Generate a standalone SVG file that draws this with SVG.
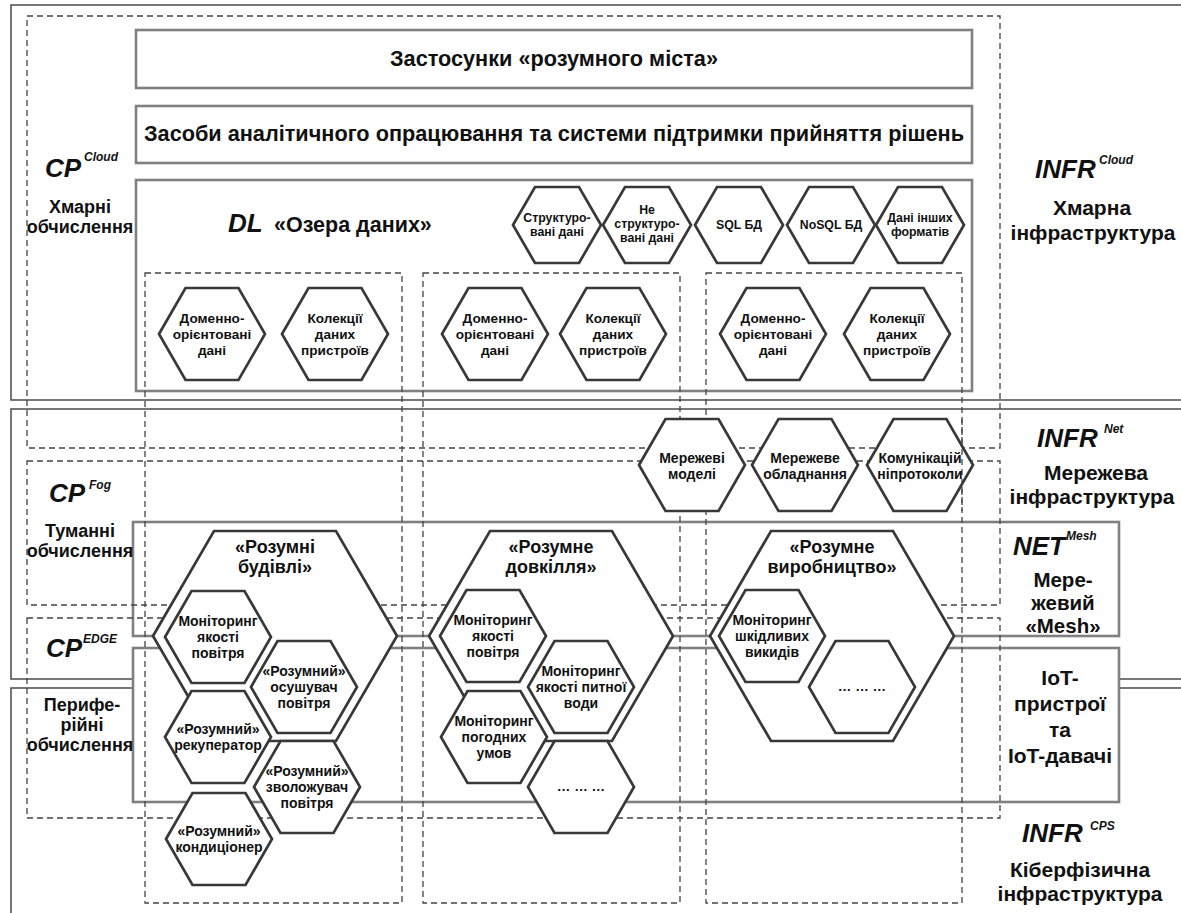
<svg xmlns="http://www.w3.org/2000/svg" width="1181" height="913" viewBox="0 0 1181 913">
<style>
text{font-family:'Liberation Sans','Open Sans','DejaVu Sans',sans-serif;font-weight:bold;fill:#111;text-anchor:middle}
.outer{fill:none;stroke:#555;stroke-width:1.6}
.gbox{fill:#fff;stroke:#808080;stroke-width:2.6}
.dash{fill:none;stroke:#444;stroke-width:1.3;stroke-dasharray:6 4}
.hex{fill:#fff;stroke:#383838;stroke-width:2.7}
.sym{font-style:italic;font-size:26px;text-anchor:start}
.sup{font-style:italic;font-size:12px;text-anchor:start}
.lbl{font-size:18px}
.rl{font-size:21px}
.h12{font-size:12.3px}
.h13{font-size:13.6px}
.h14{font-size:14px}
.big{font-size:18px}
</style>
<defs>
<polygon id="hexS" class="hex" points="-44,0 -22,-38 22,-38 44,0 22,38 -22,38"/>
<polygon id="hexM" class="hex" points="-53,0 -26.5,-46 26.5,-46 53,0 26.5,46 -26.5,46"/>
<polygon id="hexL" class="hex" points="-122,0 -61,-105 61,-105 122,0 61,105 -61,105"/>
</defs>

<g id="layers">
<rect id="infr-cloud" class="outer" x="11" y="5" width="1180" height="395"/>
<rect id="infr-net" class="outer" x="11" y="409" width="1180" height="270"/>
<rect id="infr-cps" class="outer" x="11" y="688" width="1180" height="240"/>
<rect id="apps" class="gbox" x="136" y="30" width="836" height="58"/>
<rect id="analytics" class="gbox" x="136" y="106" width="836" height="57"/>
<rect id="datalake" class="gbox" x="136" y="180" width="836" height="211"/>
<rect id="net-mesh" class="gbox" x="133" y="522" width="986" height="114"/>
<rect id="iot" class="gbox" x="133" y="648" width="986" height="154"/>
</g>

<g id="zones">
<rect id="cp-cloud" class="dash" x="27" y="16" width="973" height="432"/>
<rect id="cp-fog" class="dash" x="27" y="461" width="973" height="144"/>
<rect id="cp-edge" class="dash" x="27" y="618" width="973" height="200"/>
<rect id="col1" class="dash" x="145" y="273" width="257" height="630"/>
<rect id="col2" class="dash" x="423" y="273" width="257" height="630"/>
<rect id="col3" class="dash" x="706" y="273" width="256" height="630"/>
</g>

<g id="connectors"></g>

<g id="layer-texts">
<text x="554" y="66" style="font-size:21.7px">Застосунки «розумного міста»</text>
<text x="554" y="141" style="font-size:21.7px">Засоби аналітичного опрацювання та системи підтримки прийняття рішень</text>
<text class="sym" x="228" y="232">DL</text>
<text x="274" y="232" style="font-size:21.5px;text-anchor:start">«Озера даних»</text>
</g>

<g id="dl-struct"><use href="#hexS" x="557" y="225"/><text class="h12" x="557" y="222">Структуро-</text><text class="h12" x="557" y="236">вані дані</text></g>
<g id="dl-unstruct"><use href="#hexS" x="647" y="225"/><text class="h12" x="647" y="214">Не</text><text class="h12" x="647" y="228">структуро-</text><text class="h12" x="647" y="242">вані дані</text></g>
<g id="dl-sql"><use href="#hexS" x="739" y="225"/><text class="h12" x="739" y="229">SQL БД</text></g>
<g id="dl-nosql"><use href="#hexS" x="831" y="225"/><text class="h12" x="831" y="229">NoSQL БД</text></g>
<g id="dl-other"><use href="#hexS" x="920" y="225"/><text class="h12" x="920" y="222">Дані інших</text><text class="h12" x="920" y="236">форматів</text></g>

<g id="c1-domain"><use href="#hexM" x="212" y="334"/><text class="h13" x="212" y="323">Доменно-</text><text class="h13" x="212" y="339">орієнтовані</text><text class="h13" x="212" y="355">дані</text></g>
<g id="c1-coll"><use href="#hexM" x="335" y="334"/><text class="h13" x="335" y="323">Колекції</text><text class="h13" x="335" y="339">даних</text><text class="h13" x="335" y="355">пристроїв</text></g>
<g id="c2-domain"><use href="#hexM" x="495" y="334"/><text class="h13" x="495" y="323">Доменно-</text><text class="h13" x="495" y="339">орієнтовані</text><text class="h13" x="495" y="355">дані</text></g>
<g id="c2-coll"><use href="#hexM" x="613" y="334"/><text class="h13" x="613" y="323">Колекції</text><text class="h13" x="613" y="339">даних</text><text class="h13" x="613" y="355">пристроїв</text></g>
<g id="c3-domain"><use href="#hexM" x="773" y="334"/><text class="h13" x="773" y="323">Доменно-</text><text class="h13" x="773" y="339">орієнтовані</text><text class="h13" x="773" y="355">дані</text></g>
<g id="c3-coll"><use href="#hexM" x="897" y="334"/><text class="h13" x="897" y="323">Колекції</text><text class="h13" x="897" y="339">даних</text><text class="h13" x="897" y="355">пристроїв</text></g>

<g id="net-models"><use href="#hexM" x="692" y="465"/><text class="h14" x="692" y="463">Мережеві</text><text class="h14" x="692" y="479">моделі</text></g>
<g id="net-equip"><use href="#hexM" x="805" y="465"/><text class="h14" x="805" y="463">Мережеве</text><text class="h14" x="805" y="479">обладнання</text></g>
<g id="net-proto"><use href="#hexM" x="920" y="465"/><line class="dash" x1="962" y1="419" x2="962" y2="511"/><text class="h14" x="920" y="463">Комунікацій</text><text class="h14" x="920" y="479">ніпротоколи</text></g>

<g id="smart-buildings"><use href="#hexL" x="275" y="636"/><text class="big" x="275" y="553">«Розумні</text><text class="big" x="275" y="573">будівлі»</text></g>
<g id="smart-env"><use href="#hexL" x="551" y="636"/><text class="big" x="551" y="553">«Розумне</text><text class="big" x="551" y="573">довкілля»</text></g>
<g id="smart-prod"><use href="#hexL" x="832" y="636"/><text class="big" x="832" y="553">«Розумне</text><text class="big" x="832" y="573">виробництво»</text></g>

<g id="b-air"><use href="#hexM" x="218" y="637"/><text class="h14" x="218" y="626">Моніторинг</text><text class="h14" x="218" y="642">якості</text><text class="h14" x="218" y="658">повітря</text></g>
<g id="b-dryer"><use href="#hexM" x="304" y="687"/><text class="h14" x="304" y="676">«Розумний»</text><text class="h14" x="304" y="692">осушувач</text><text class="h14" x="304" y="708">повітря</text></g>
<g id="b-recup"><use href="#hexM" x="218" y="737"/><text class="h14" x="218" y="734">«Розумний»</text><text class="h14" x="218" y="750">рекуператор</text></g>
<g id="b-humid"><use href="#hexM" x="307" y="787"/><text class="h14" x="307" y="776">«Розумний»</text><text class="h14" x="307" y="792">зволожувач</text><text class="h14" x="307" y="808">повітря</text></g>
<g id="b-cond"><use href="#hexM" x="219" y="839"/><text class="h14" x="219" y="836">«Розумний»</text><text class="h14" x="219" y="852">кондиціонер</text></g>

<g id="e-air"><use href="#hexM" x="493" y="636"/><text class="h14" x="493" y="625">Моніторинг</text><text class="h14" x="493" y="641">якості</text><text class="h14" x="493" y="657">повітря</text></g>
<g id="e-water"><use href="#hexM" x="581" y="687"/><text class="h14" x="581" y="676">Моніторинг</text><text class="h14" x="581" y="692">якості питної</text><text class="h14" x="581" y="708">води</text></g>
<g id="e-weather"><use href="#hexM" x="494" y="737"/><text class="h14" x="494" y="726">Моніторинг</text><text class="h14" x="494" y="742">погодних</text><text class="h14" x="494" y="758">умов</text></g>
<g id="e-more"><use href="#hexM" x="581" y="787"/><text class="h13" x="581" y="791">… … …</text></g>

<g id="p-emis"><use href="#hexM" x="772" y="636"/><text class="h14" x="772" y="625">Моніторинг</text><text class="h14" x="772" y="641">шкідливих</text><text class="h14" x="772" y="657">викидів</text></g>
<g id="p-more"><use href="#hexM" x="862" y="687"/><text class="h13" x="862" y="691">… … …</text></g>

<g id="left-labels">
<text class="sym" x="45" y="177">CP</text><text class="sup" x="84" y="161">Cloud</text>
<text class="lbl" x="80" y="213">Хмарні</text><text class="lbl" x="80" y="233">обчислення</text>
<text class="sym" x="49" y="502">CP</text><text class="sup" x="89" y="489">Fog</text>
<text class="lbl" x="80" y="537">Туманні</text><text class="lbl" x="80" y="557">обчислення</text>
<text class="sym" x="46" y="657">CP</text><text class="sup" x="83" y="643">EDGE</text>
<text class="lbl" x="82" y="711">Перифе-</text><text class="lbl" x="82" y="731">рійні</text><text class="lbl" x="80" y="751">обчислення</text>
</g>

<g id="right-labels">
<text class="sym" x="1035" y="178">INFR</text><text class="sup" x="1099" y="164">Cloud</text>
<text class="rl" x="1092" y="215">Хмарна</text><text class="rl" x="1093" y="240">інфраструктура</text>
<text class="sym" x="1037" y="447">INFR</text><text class="sup" x="1104" y="433">Net</text>
<text class="rl" x="1096" y="480">Мережева</text><text class="rl" x="1092" y="504">інфраструктура</text>
<text class="sym" x="1013" y="555">NET</text><text class="sup" x="1066" y="540">Mesh</text>
<text class="rl" x="1063" y="587" style="font-size:20.5px">Мере-</text><text class="rl" x="1063" y="610" style="font-size:20.5px">жевий</text><text class="rl" x="1063" y="633" style="font-size:20.5px">«Mesh»</text>
<text class="rl" x="1060" y="685">IoT-</text><text class="rl" x="1060" y="711">пристрої</text><text class="rl" x="1060" y="737">та</text><text class="rl" x="1060" y="763">IoT-давачі</text>
<text class="sym" x="1022" y="842">INFR</text><text class="sup" x="1090" y="830">CPS</text>
<text class="rl" x="1080" y="877">Кіберфізична</text><text class="rl" x="1080" y="901">інфраструктура</text>
</g>
</svg>
